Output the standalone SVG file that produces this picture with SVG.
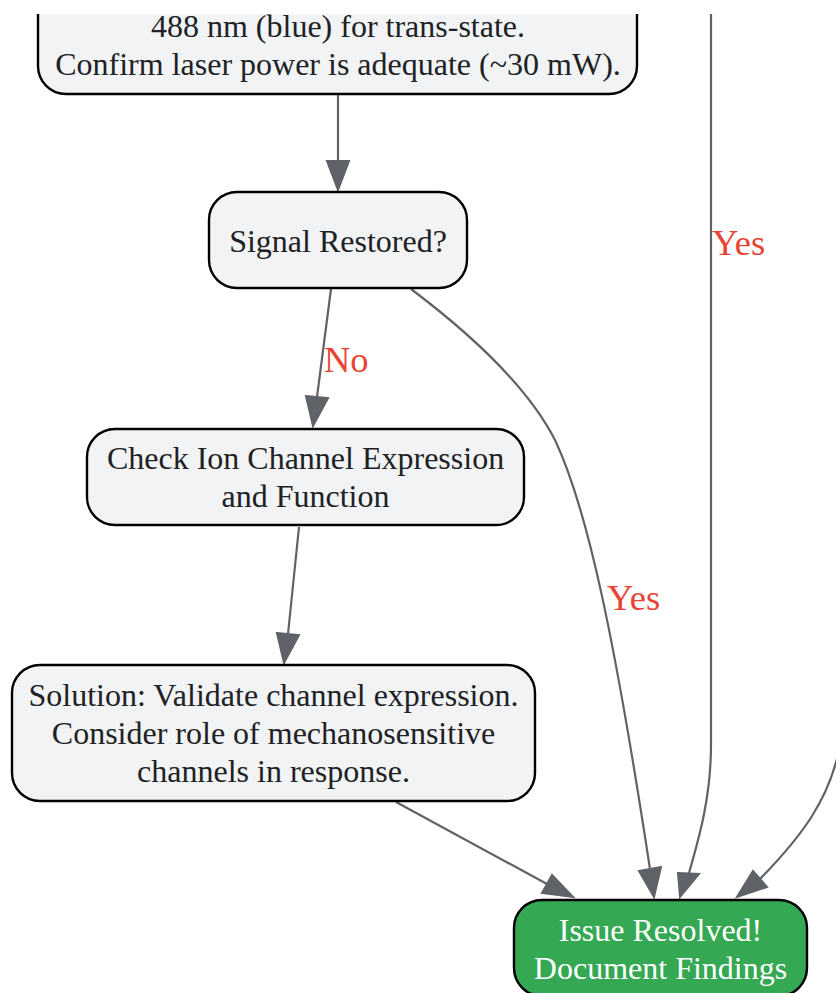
<svg xmlns="http://www.w3.org/2000/svg" width="836" height="993" viewBox="0 0 836 993">
<style>
.node rect{fill:#f1f3f4;stroke:#000;stroke-width:2.4}
.node text{font-family:"Liberation Serif","Times New Roman",serif;font-size:32px;fill:#202124;text-anchor:middle}
#n_resolved rect{fill:#34a853}
#n_resolved text{fill:#fff}
.edge{fill:none;stroke:#5f6368;stroke-width:2.2}
.head{fill:#5f6368;stroke:#5f6368;stroke-width:2}
.lbl{font-family:"Liberation Serif","Times New Roman",serif;font-size:36.5px;fill:#ea4335}
</style>
<defs>
<clipPath id="view"><rect x="0" y="14" width="836" height="979"/></clipPath>
</defs>
<rect width="836" height="993" fill="#fff"/>
<g clip-path="url(#view)">
<g id="connectors">
<path class="edge" d="M338,94 V161"/>
<polygon class="head" points="327,161 349,161 338,190"/>
<path class="edge" d="M331,289 L317,397"/>
<polygon class="head" points="306,396 328,398 313,426"/>
<text class="lbl" x="324" y="372">No</text>
<path class="edge" d="M411,289 C468,332 527,385 555,440 C588,510 615,640 650,869"/>
<polygon class="head" points="639,871 661,867 654,897"/>
<text class="lbl" x="607" y="610">Yes</text>
<path class="edge" d="M299,527 L288,634"/>
<polygon class="head" points="277,633 299,635 284,663"/>
<path class="edge" d="M396,802 L547,884"/>
<polygon class="head" points="552,875 542,893 573,897"/>
<path class="edge" d="M711,0 V745 C711,795 700,835 689,873"/>
<polygon class="head" points="678,873 699,874 680,897"/>
<text class="lbl" x="712" y="255">Yes</text>
<path class="edge" d="M840,745 C830,800 800,838 760,879"/>
<polygon class="head" points="753,871 767,887 737,897"/>
</g>
<g id="n_laser" class="node">
<rect x="38" y="-40" width="599" height="134" rx="28"/>
<text x="338" y="37">488 nm (blue) for trans-state.</text>
<text x="338" y="75">Confirm laser power is adequate (~30 mW).</text>
</g>
<g id="n_signal" class="node">
<rect x="209" y="192" width="258" height="96" rx="28"/>
<text x="338" y="252">Signal Restored?</text>
</g>
<g id="n_ion" class="node">
<rect x="87" y="429" width="437" height="96" rx="28"/>
<text x="305.5" y="469">Check Ion Channel Expression</text>
<text x="305.5" y="507">and Function</text>
</g>
<g id="n_solution" class="node">
<rect x="12" y="665" width="523" height="136" rx="28"/>
<text x="273.5" y="706">Solution: Validate channel expression.</text>
<text x="273.5" y="744">Consider role of mechanosensitive</text>
<text x="273.5" y="782">channels in response.</text>
</g>
<g id="n_resolved" class="node">
<rect x="514" y="900" width="293" height="96" rx="28"/>
<text x="660.5" y="941">Issue Resolved!</text>
<text x="660.5" y="979">Document Findings</text>
</g>
</g>
</svg>
